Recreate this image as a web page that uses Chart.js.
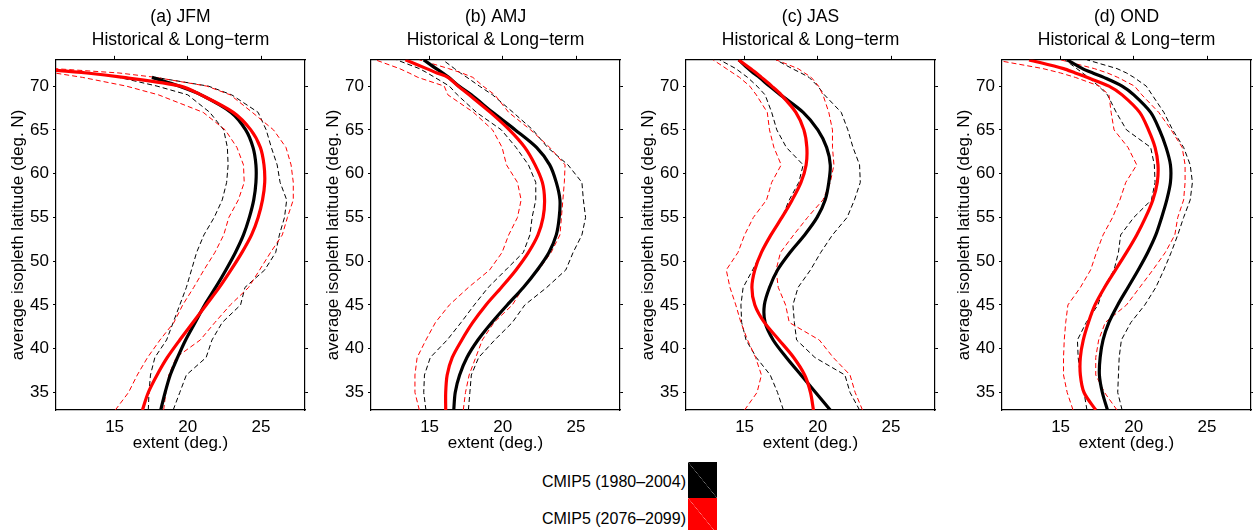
<!DOCTYPE html>
<html lang="en">
<head>
<meta charset="UTF-8">
<title>Isopleth extent: historical and long-term</title>
<script src="https://cdn.jsdelivr.net/npm/chart.js"></script>
<style>
    body {
        margin: 0;
        width: 1253px;
        height: 530px;
        overflow: hidden;
        background: #ffffff;
        position: relative;
        font-family: "Liberation Sans", Arial, sans-serif;
    }
    .panel {
        position: absolute;
        top: 0;
        width: 308px;
        height: 460px;
    }
    .legText {
        position: absolute;
        right: 567px;
        font-size: 16px;
        line-height: 18px;
        white-space: nowrap;
        color: #000;
    }
    .legBox {
        position: absolute;
        left: 688px;
        width: 29px;
        height: 36px;
    }
</style>
</head>
<body>
<canvas class="panel" id="p0" width="308" height="460" style="left:0px"></canvas>
<canvas class="panel" id="p1" width="308" height="460" style="left:315px"></canvas>
<canvas class="panel" id="p2" width="308" height="460" style="left:630px"></canvas>
<canvas class="panel" id="p3" width="308" height="460" style="left:946px"></canvas>

<div class="legText" style="top:473px">CMIP5 (1980–2004)</div>
<div class="legBox" style="top:462px;background:linear-gradient(to top right,#000 49%,#777 50%,#000 51%)"></div>
<div class="legText" style="top:510px">CMIP5 (2076–2099)</div>
<div class="legBox" style="top:498px;background:linear-gradient(to top right,#f00 49%,#ff8080 50%,#f00 51%)"></div>

<script>
// latitude levels (deg N) at which every curve is read
const LAT = [33, 35, 37, 39, 41, 43, 45, 47, 49, 51, 53, 55, 57, 59, 61, 63, 65, 67, 69, 70, 71, 71.5, 72, 73];

const X_TICKS = [15, 20, 25];
const Y_TICKS = [35, 40, 45, 50, 55, 60, 65, 70];

const TITLES = ['(a) JFM', '(b) AMJ', '(c) JAS', '(d) OND'];
const SUBTITLE = 'Historical & Long\u2212term';

// (a) JFM
const jfmHist   = [18.15, 18.45, 18.8, 19.3, 19.85, 20.5, 21.15, 21.9, 22.6, 23.25, 23.8, 24.2, 24.5, 24.65, 24.65, 24.45, 23.95, 22.95, 20.9, 19.4, 17.55, null, null, null];
const jfmHistLo = [17.3, 17.35, 17.45, 17.75, 18.55, 19.0, 19.45, 19.9, 20.25, 20.6, 21.1, 21.8, 22.35, 22.65, 22.75, 22.7, 22.45, 21.5, 20.0, 17.9, 15.3, null, null, null];
const jfmHistHi = [19.0, 19.45, 19.9, 21.25, 21.65, 22.35, 23.6, 23.9, 25.25, 26.0, 26.25, 26.6, 26.75, 26.3, 26.1, 25.7, 25.35, 24.8, 23.0, 21.4, 17.8, null, null, null];
const jfmFut    = [16.9, 17.3, 17.9, 18.6, 19.45, 20.35, 21.25, 22.15, 22.95, 23.7, 24.35, 24.8, 25.1, 25.25, 25.2, 24.95, 24.3, 23.1, 20.9, 19.5, 15.6, 13.1, 9.5, null];
const jfmFutLo  = [15.05, 15.95, 16.55, 17.25, 18.1, 19.05, 19.65, 20.4, 21.1, 21.85, 22.45, 22.8, 23.45, 23.85, 23.8, 23.35, 22.55, 21.05, 18.0, 15.8, 12.8, 10.9, 8.0, null];
const jfmFutHi  = [18.35, 18.5, 18.7, 19.2, 20.85, 21.85, 22.9, 24.15, 24.9, 25.65, 26.45, 26.8, 27.2, 27.2, 27.05, 26.7, 25.85, 24.4, 22.9, 21.3, 17.8, 15.3, 10.9, null];

// (b) AMJ
const amjHist   = [16.65, 16.75, 17.05, 17.55, 18.3, 19.25, 20.3, 21.4, 22.35, 23.15, 23.65, 23.85, 23.9, 23.65, 23.2, 22.3, 20.85, 19.3, 17.85, 17.0, 16.3, 15.9, 15.45, 14.6];
const amjHistLo = [14.75, 14.6, 14.65, 15.05, 16.2, 17.15, 18.05, 19.0, 20.2, 21.4, 21.85, 22.0, 22.25, 22.25, 21.75, 20.9, 19.9, 18.2, 16.9, 16.35, 15.35, 14.85, 14.3, 12.75];
const amjHistHi = [17.65, 17.75, 17.85, 18.35, 19.45, 20.65, 21.5, 23.0, 24.3, 24.8, 25.4, 25.65, 25.5, 25.4, 24.45, 23.05, 22.05, 20.7, 19.3, 18.4, 17.55, 17.1, 16.7, 15.9];
const amjFut    = [16.1, 16.1, 16.2, 16.55, 17.2, 17.95, 18.85, 19.9, 20.9, 21.75, 22.4, 22.75, 22.85, 22.7, 22.2, 21.5, 20.45, 19.15, 17.7, 16.95, 16.25, 15.5, 14.8, 13.35];
const amjFutLo  = [14.3, 14.0, 14.0, 14.15, 14.75, 15.4, 16.35, 17.65, 19.1, 19.95, 20.4, 21.0, 21.25, 21.0, 20.25, 19.95, 19.3, 18.0, 16.25, 16.0, 14.2, 13.6, 12.95, 11.3];
const amjFutHi  = [17.3, 17.45, 17.7, 18.15, 18.6, 19.4, 20.65, 21.4, 22.45, 23.3, 23.9, 24.0, 24.1, 24.2, 24.25, 23.2, 21.9, 20.4, 19.45, 18.65, 17.95, 17.2, 16.3, 14.3];

// (c) JAS
const jasHist   = [20.85, 19.85, 18.85, 17.85, 16.95, 16.4, 16.35, 16.7, 17.25, 18.1, 19.1, 19.95, 20.5, 20.75, 20.85, 20.6, 20.0, 19.0, 17.45, 16.7, 16.0, 15.6, 15.25, 14.6];
const jasHistLo = [17.65, 17.25, 16.75, 15.8, 15.1, 14.8, 14.75, 14.9, 15.55, 16.15, 16.85, 17.55, 18.05, 18.7, 19.0, 17.85, 17.2, 16.85, 16.4, 15.85, 15.2, 14.8, 14.4, 13.3];
const jasHistHi = [22.85, 22.2, 21.85, 19.8, 18.55, 18.4, 18.3, 18.65, 19.5, 20.2, 21.0, 22.0, 22.5, 22.9, 22.85, 22.4, 22.05, 21.6, 20.45, 20.0, 19.4, 18.85, 18.25, 17.15];
const jasFut    = [19.7, 19.5, 19.1, 18.35, 17.35, 16.35, 15.7, 15.5, 15.7, 16.15, 16.8, 17.55, 18.25, 18.85, 19.2, 19.25, 19.05, 18.5, 17.5, 16.85, 16.15, 15.8, 15.4, 14.6];
const jasFutLo  = [15.0, 15.85, 16.15, 15.75, 15.2, 14.75, 14.4, 14.0, 13.75, 14.55, 15.0, 15.6, 16.5, 16.85, 17.5, 17.0, 16.7, 16.55, 15.8, 15.35, 14.65, 14.2, 13.75, 12.85];
const jasFutHi  = [23.05, 22.55, 22.2, 21.05, 20.1, 18.05, 17.8, 17.3, 17.15, 17.45, 18.35, 19.3, 20.35, 20.85, 21.1, 21.0, 21.0, 20.75, 20.35, 20.05, 19.55, 19.1, 18.65, 17.15];

// (d) OND
const ondHist   = [18.2, 17.85, 17.65, 17.7, 17.9, 18.3, 18.9, 19.6, 20.3, 20.95, 21.5, 21.9, 22.25, 22.5, 22.5, 22.2, 21.75, 21.15, 20.0, 19.2, 17.95, 17.2, 16.5, 15.45];
const ondHistLo = [16.8, 16.6, 16.35, 16.2, 16.15, 16.75, 17.55, 17.95, 18.65, 18.95, 19.1, 20.0, 21.2, 21.45, 21.4, 21.15, 19.5, 18.8, 18.2, 17.6, 16.9, 16.5, 16.1, 15.3];
const ondHistHi = [19.2, 18.9, 18.95, 19.0, 19.15, 19.8, 20.75, 21.5, 22.05, 22.55, 23.0, 23.4, 23.85, 24.0, 23.85, 23.4, 22.65, 22.05, 21.25, 20.85, 20.0, 19.5, 18.85, 16.8];
const ondFut    = [17.4, 16.6, 16.35, 16.35, 16.55, 16.9, 17.35, 18.0, 18.75, 19.5, 20.2, 20.8, 21.3, 21.6, 21.65, 21.45, 21.0, 20.4, 19.2, 18.3, 16.8, 16.0, 15.2, 12.85];
const ondFutLo  = [15.85, 15.45, 15.2, 15.2, 15.25, 15.35, 15.5, 16.35, 17.05, 17.45, 17.9, 18.55, 19.05, 19.45, 20.2, 19.6, 18.65, 18.45, 18.3, 17.65, 16.0, 15.0, 13.8, 10.5];
const ondFutHi  = [18.85, 18.0, 17.4, 17.4, 17.6, 18.05, 19.5, 20.4, 21.3, 22.15, 22.8, 23.0, 23.4, 23.5, 23.5, 23.3, 22.55, 21.7, 20.55, 20.05, 18.9, 18.2, 17.3, 15.0];

const PANELS = [
    { hist: jfmHist, histLo: jfmHistLo, histHi: jfmHistHi, fut: jfmFut, futLo: jfmFutLo, futHi: jfmFutHi },
    { hist: amjHist, histLo: amjHistLo, histHi: amjHistHi, fut: amjFut, futLo: amjFutLo, futHi: amjFutHi },
    { hist: jasHist, histLo: jasHistLo, histHi: jasHistHi, fut: jasFut, futLo: jasFutLo, futHi: jasFutHi },
    { hist: ondHist, histLo: ondHistLo, histHi: ondHistHi, fut: ondFut, futLo: ondFutLo, futHi: ondFutHi }
];

const FONT = { family: '"Liberation Sans", Arial, sans-serif', size: 17, lineHeight: 1.2 };
const RED = '#ff0000';
const BLACK = '#000000';

function points(values) {
    return LAT.map((lat, i) => ({ x: values[i], y: lat })).filter(p => p.x !== null);
}

function solid(values, color) {
    return { data: points(values), borderColor: color, borderWidth: 3.2, tension: 0.3, pointRadius: 0 };
}

function dashed(values, color) {
    return { data: points(values), borderColor: color, borderWidth: 1, borderDash: [5, 3], tension: 0, pointRadius: 0 };
}

function setTicks(list) {
    return scale => { scale.ticks = list.map(v => ({ value: v })); };
}

PANELS.forEach((p, i) => {
    const ctx = document.getElementById('p' + i).getContext('2d');
    new Chart(ctx, {
        type: 'line',
        data: {
            datasets: [
                solid(p.fut, RED),
                solid(p.hist, BLACK),
                dashed(p.futLo, RED),
                dashed(p.futHi, RED),
                dashed(p.histLo, BLACK),
                dashed(p.histHi, BLACK)
            ]
        },
        options: {
            responsive: false,
            animation: false,
            devicePixelRatio: 1,
            layout: { padding: 0 },
            plugins: {
                legend: { display: false },
                tooltip: { enabled: false },
                title: {
                    display: true,
                    text: [TITLES[i], SUBTITLE],
                    fullSize: false,
                    color: BLACK,
                    font: { family: FONT.family, size: 17.5, weight: 'normal', lineHeight: 1.31 },
                    padding: { top: 5.5, bottom: 4.5 }
                }
            },
            scales: {
                x: {
                    type: 'linear', position: 'bottom', min: 11, max: 28,
                    afterBuildTicks: setTicks(X_TICKS),
                    afterFit: s => { s.height = 50; },
                    grid: { drawOnChartArea: false, drawTicks: false },
                    border: { color: BLACK, width: 1.2 },
                    ticks: { padding: 7.5, color: BLACK, font: FONT, maxRotation: 0 },
                    title: { display: true, text: 'extent (deg.)', color: BLACK, font: FONT, padding: { top: 0, bottom: 6.5 } }
                },
                x2: {
                    type: 'linear', position: 'top', min: 11, max: 28,
                    afterBuildTicks: setTicks(X_TICKS),
                    afterFit: s => { s.height = 4; },
                    grid: { drawOnChartArea: false, drawTicks: true, tickLength: 4, color: BLACK },
                    border: { color: BLACK, width: 1.2 },
                    ticks: { display: false }
                },
                y: {
                    type: 'linear', position: 'left', min: 33, max: 73,
                    afterBuildTicks: setTicks(Y_TICKS),
                    afterFit: s => { s.width = 56; },
                    grid: { drawOnChartArea: false, drawTicks: true, tickLength: 3, color: BLACK },
                    border: { color: BLACK, width: 1.2 },
                    ticks: { padding: 4, color: BLACK, font: FONT },
                    title: { display: true, text: 'average isopleth latitude (deg. N)', color: BLACK, font: FONT, padding: { top: 7.8, bottom: 0 } }
                },
                y2: {
                    type: 'linear', position: 'right', min: 33, max: 73,
                    afterBuildTicks: setTicks(Y_TICKS),
                    afterFit: s => { s.width = 3; },
                    grid: { drawOnChartArea: false, drawTicks: true, tickLength: 3, color: BLACK },
                    border: { color: BLACK, width: 1.2 },
                    ticks: { display: false }
                }
            }
        }
    });
});
</script>
</body>
</html>
